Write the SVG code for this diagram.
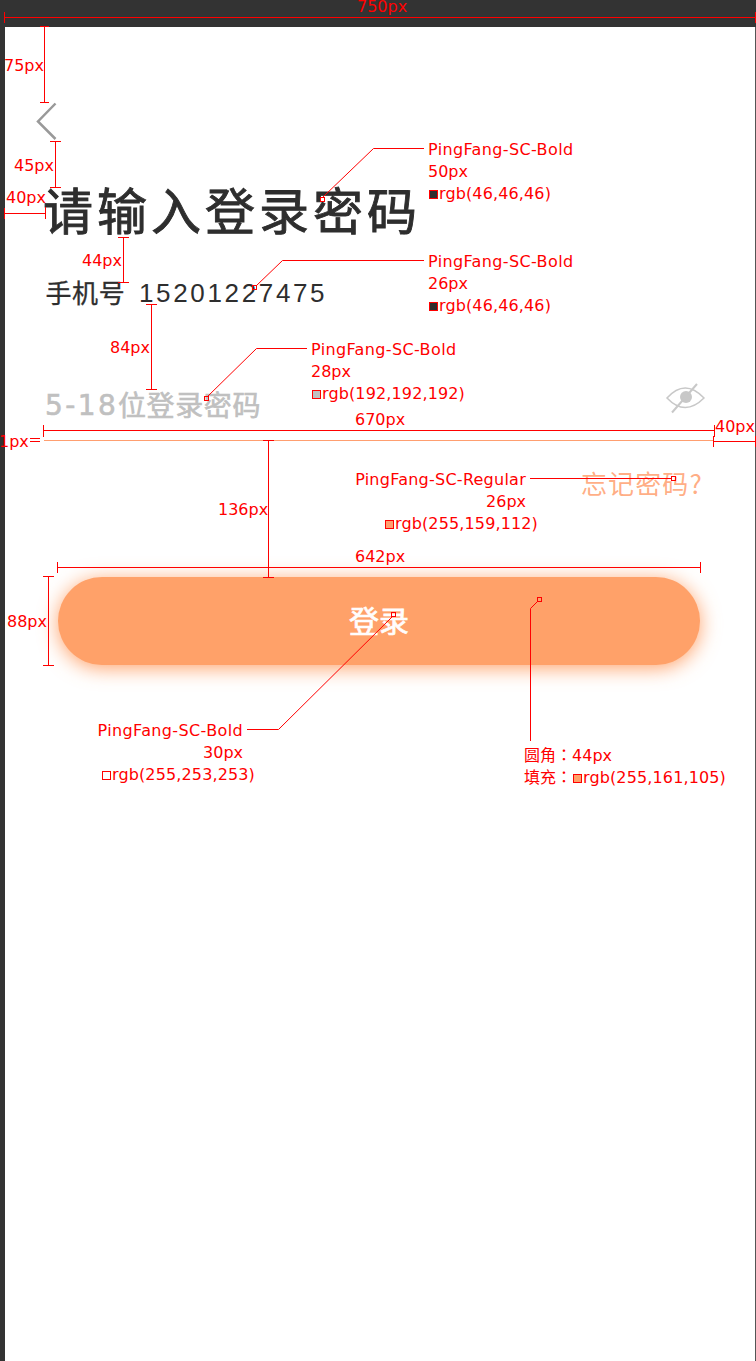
<svg xmlns="http://www.w3.org/2000/svg" width="756" height="1361" viewBox="0 0 756 1361">
<style>
.l{font-family:"DejaVu Sans",sans-serif;font-size:16px;fill:#f00}
.p{letter-spacing:.37px}
.q{letter-spacing:.25px}
.g{letter-spacing:.13px}
.c{font-family:"DejaVu Sans","Noto Sans CJK SC",sans-serif}
.h{font-family:"Liberation Sans","Noto Sans CJK SC",sans-serif}
.j{font-family:"Noto Sans CJK SC",sans-serif}
.r{stroke:#f00;stroke-width:1;fill:none;shape-rendering:crispEdges}
.a{stroke:#f00;stroke-width:1;fill:none}
.s{stroke:#f00;stroke-width:1;shape-rendering:crispEdges}
.e{text-anchor:end}
</style>
<defs>
<filter id="glow" x="-10%" y="-50%" width="120%" height="200%"><feGaussianBlur stdDeviation="10"/></filter>
</defs>
<rect width="756" height="1361" fill="#fff"/>
<g id="frame">
<rect width="756" height="27" fill="#333"/>
<rect y="0" width="5" height="1361" fill="#333"/>
<rect x="755" y="27" width="1" height="1334" fill="#555"/>
</g>
<g id="back"><path d="M55.500 103.500L38 121.500L55.500 139" fill="none" stroke="#999" stroke-width="2.500"/></g>
<g id="title"><text class="j" x="43" y="230" font-size="50" fill="#2e2e2e" stroke="#2e2e2e" stroke-width=".9" letter-spacing="4">请输入登录密码</text></g>
<g id="phone"><text class="j" x="45.500" y="303" font-size="26" fill="#2e2e2e" stroke="#2e2e2e" stroke-width=".3" letter-spacing=".6">手机号</text><text class="h" x="139" y="302" font-size="26" fill="#2e2e2e" letter-spacing="2.650">15201227475</text></g>
<g id="password" fill="#c0c0c0" stroke="#c0c0c0" stroke-width=".6"><text class="c" x="45" y="415" font-size="28" letter-spacing="2.400">5-18</text><text class="j" x="118" y="416" font-size="28" letter-spacing=".6">位登录密码</text></g>
<g id="eye" fill="none" stroke="#c8c8c8" stroke-width="1.500">
<path d="M667 398Q685 378 704 398Q685 417 667 398Z"/>
<circle cx="686" cy="397" r="6" fill="#c8c8c8" stroke="none"/>
<path d="M672 412.500L697 384" stroke-width="2"/>
</g>
<g id="underline"><rect x="44" y="440" width="670" height="1" fill="#ff9f70"/></g>
<g id="forgot"><text class="j" x="581" y="494" font-size="26" fill="#ff9f70" fill-opacity=".85" letter-spacing="1.100">忘记密码?</text></g>
<g id="button">
<rect x="58" y="580" width="642" height="88" rx="44" fill="#ffa169" filter="url(#glow)"/>
<rect x="58" y="577" width="642" height="88" rx="44" fill="#ffa169"/>
<text class="j" x="379" y="632" font-size="30" fill="#fffdfd" stroke="#fffdfd" stroke-width=".7" text-anchor="middle">登录</text>
</g>
<g id="connectors">
<path class="s" d="M4 17.500H755M4.500 12V23M755.500 12V23" fill="none"/>
<path class="r" d="M44.500 27V102.500M40 26.500H49M40 102.500H49"/>
<path class="r" d="M55.500 142V187.500M50 141.500H61M50 187.500H61"/>
<path class="r" d="M5 213.500H45M4.500 208V219M45.500 207V219"/>
<path class="r" d="M123.500 238V282.500M118 237.500H129M118 282.500H129"/>
<path class="r" d="M151.500 305V389.500M146 304.500H157M146 389.500H157"/>
<path class="r" d="M43.500 425V437M44 430.500H714M714.500 425V437"/>
<path class="r" d="M30 438.500H40M30 441.500H40"/>
<path class="r" d="M714 441.500H755M713.500 436V447M755.500 436V447"/>
<path class="r" d="M268.500 441V577M263 440.500H274M263 577.500H274"/>
<path class="r" d="M58 567.500H701M57.500 562V573M700.500 562V573"/>
<path class="r" d="M48.500 577V665M43 576.500H54M43 665.500H54"/>
<path class="a" d="M323 197L373.500 148.500H424"/>
<path class="a" d="M256 286L282.500 260.500H424"/>
<path class="a" d="M207 397L256.500 348.500H307"/>
<path class="r" d="M530 478.500H671"/>
<path class="a" d="M392 617L278.500 729.500H247"/>
<path class="a" d="M538 601L530.500 608.500V741"/>
<rect class="r" x="320.500" y="197.500" width="4" height="4" fill="#fff"/>
<rect class="r" x="252.500" y="285.500" width="4" height="4"/>
<rect class="r" x="204.500" y="396.500" width="4" height="4" fill="#fff"/>
<rect class="r" x="671.500" y="476.500" width="4" height="4" fill="#fff"/>
<rect class="r" x="391.500" y="612.500" width="4" height="4" fill="#ffa169"/>
<rect class="r" x="537.500" y="597.500" width="4" height="4" fill="#ffa169"/>
</g>
<g id="labels">
<text class="l" x="357" y="12">750px</text>
<text class="l" x="4" y="71">75px</text>
<text class="l" x="14" y="171">45px</text>
<text class="l" x="6" y="203">40px</text>
<text class="l" x="82" y="266">44px</text>
<text class="l" x="110" y="353">84px</text>
<text class="l" x="355" y="425">670px</text>
<text class="l" x="715" y="432">40px</text>
<text class="l" x="-1" y="447">1px</text>
<text class="l" x="218" y="515">136px</text>
<text class="l" x="355" y="562">642px</text>
<text class="l" x="7" y="627">88px</text>
<text class="l p" x="428" y="155">PingFang-SC-Bold</text>
<text class="l" x="428" y="177">50px</text>
<rect x="429.500" y="190.500" width="8" height="8" fill="#2e2e2e" stroke="#f00"/>
<text class="l g" x="439" y="199">rgb(46,46,46)</text>
<text class="l p" x="428" y="267">PingFang-SC-Bold</text>
<text class="l" x="428" y="289">26px</text>
<rect x="429.500" y="302.500" width="8" height="8" fill="#2e2e2e" stroke="#f00"/>
<text class="l g" x="439" y="311">rgb(46,46,46)</text>
<text class="l p" x="311" y="355">PingFang-SC-Bold</text>
<text class="l" x="311" y="377">28px</text>
<rect x="312.500" y="390.500" width="8" height="8" fill="#c0c0c0" stroke="#f00"/>
<text class="l g" x="322" y="399">rgb(192,192,192)</text>
<text class="l q e" x="526" y="485">PingFang-SC-Regular</text>
<text class="l e" x="526" y="507">26px</text>
<rect x="385.500" y="520.500" width="8" height="8" fill="#ff9f70" stroke="#f00"/>
<text class="l g" x="395" y="529">rgb(255,159,112)</text>
<text class="l p e" x="243" y="736">PingFang-SC-Bold</text>
<text class="l e" x="243" y="758">30px</text>
<rect x="102.500" y="771.500" width="8" height="8" fill="#fffdfd" stroke="#f00"/>
<text class="l g" x="112" y="780">rgb(255,253,253)</text>
<text class="l c" x="524" y="761">圆角<tspan font-family="Noto Sans CJK TC">：</tspan>44px</text>
<text class="l c" x="524" y="783">填充<tspan font-family="Noto Sans CJK TC">：</tspan></text>
<rect x="573.500" y="774.500" width="8" height="8" fill="#ffa169" stroke="#f00"/>
<text class="l g" x="583" y="783">rgb(255,161,105)</text>
</g>
</svg>
